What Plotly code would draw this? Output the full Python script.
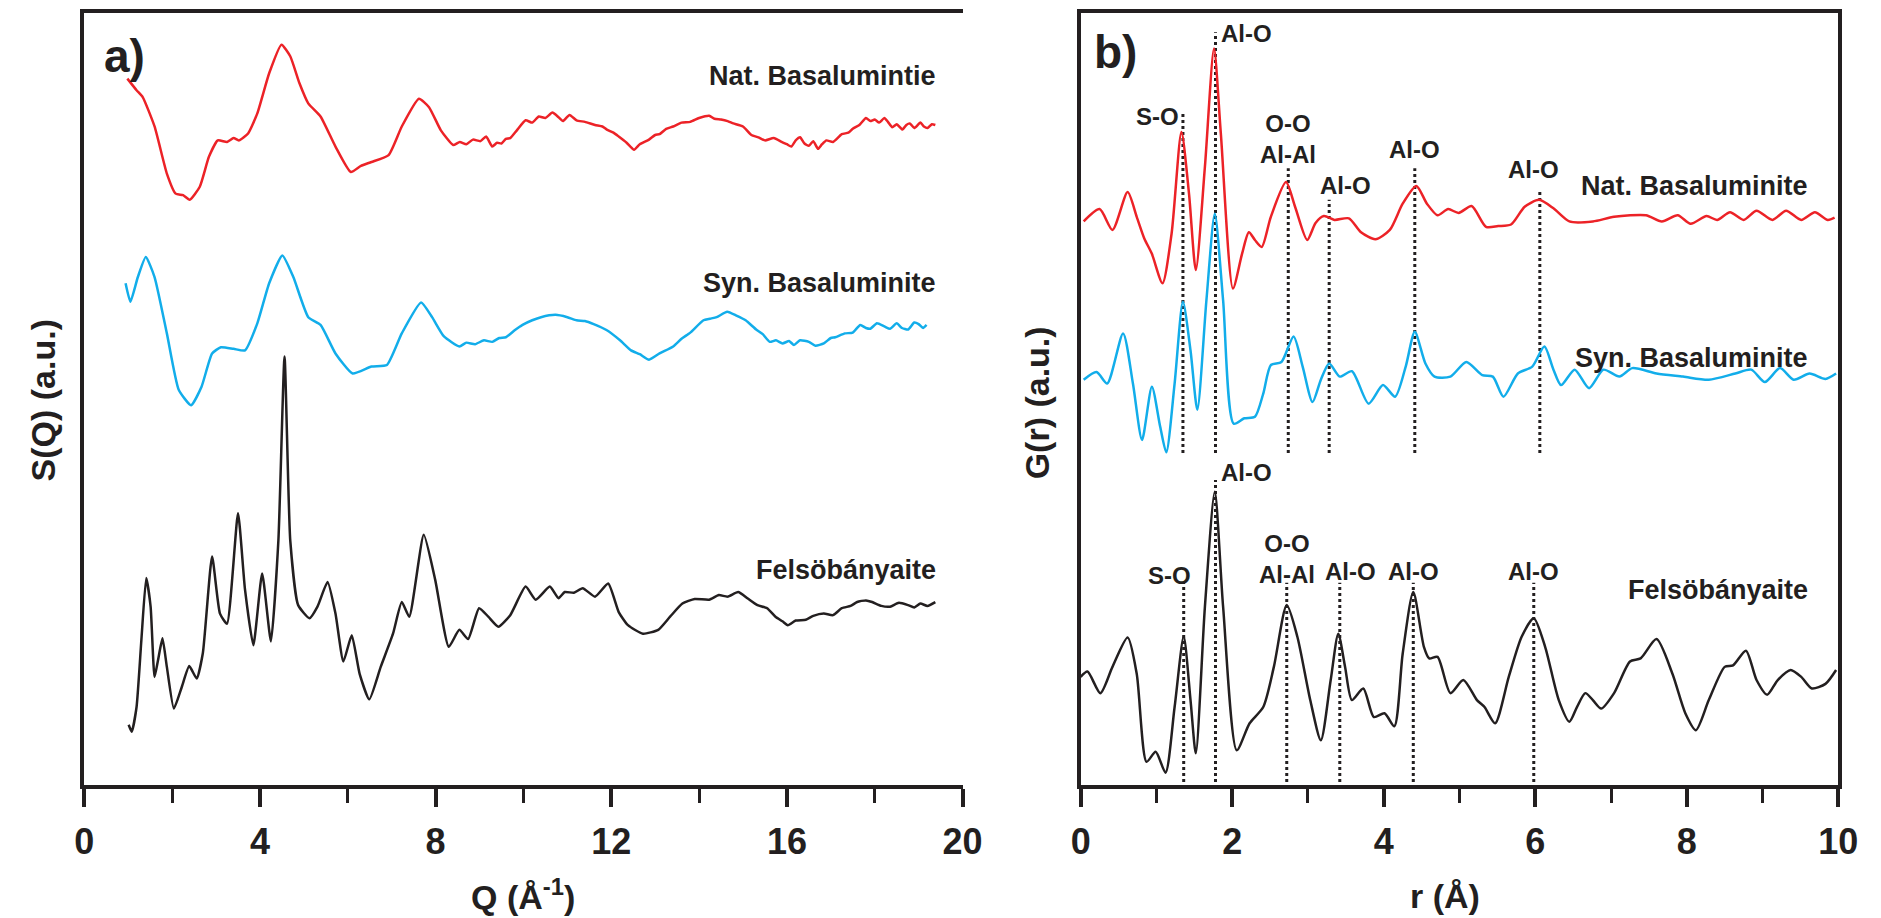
import plotly.graph_objects as go

# ---------------- Panel a: S(Q) ----------------
q_nat = [0.98,1.19,1.33,1.60,1.88,2.08,2.25,2.40,2.63,2.84,3.04,3.25,3.40,3.52,3.73,3.94,4.21,4.49,4.69,4.90,
         5.10,5.38,5.72,6.07,6.30,6.54,6.93,7.23,7.62,7.85,8.12,8.40,8.55,8.70,8.85,9.02,9.15,9.29,9.40,9.50,
         9.60,9.70,9.85,10.05,10.20,10.35,10.50,10.66,10.80,10.90,11.05,11.21,11.40,11.63,11.80,11.90,12.05,
         12.17,12.35,12.52,12.65,12.86,13.00,13.10,13.25,13.41,13.60,13.80,14.00,14.23,14.35,14.50,14.65,14.78,
         15.00,15.19,15.35,15.50,15.70,15.88,16.00,16.10,16.20,16.30,16.40,16.50,16.60,16.71,16.80,16.90,17.05,
         17.25,17.40,17.50,17.65,17.80,17.90,18.00,18.10,18.22,18.30,18.40,18.50,18.63,18.72,18.80,18.90,19.04,
         19.12,19.20,19.30,19.38]
s_nat = [91.5,90.0,89.1,85.3,79.2,76.6,76.4,75.8,77.5,81.4,83.5,83.3,83.8,83.5,84.4,87.0,92.2,95.9,94.4,90.9,
         88.3,86.6,82.7,79.4,80.2,80.7,81.6,85.3,88.9,87.8,84.8,82.9,83.3,83.0,83.6,83.4,84.0,82.7,83.2,83.1,
         83.7,83.8,84.8,86.1,85.8,86.6,86.4,87.1,86.5,86.0,86.8,86.1,85.9,85.5,85.3,84.9,84.5,
         84.0,83.2,82.3,83.0,83.6,84.2,84.3,85.0,85.3,85.8,85.9,86.4,86.7,86.3,86.2,86.0,85.7,
         85.3,84.2,83.9,83.5,83.8,83.3,83.0,82.7,83.5,83.9,83.1,82.8,83.4,82.4,83.0,83.5,83.3,
         84.3,84.5,85.0,85.5,86.4,86.0,86.2,85.8,86.4,85.9,85.2,85.6,84.9,85.5,85.7,85.1,85.8,
         85.3,85.1,85.6,85.5]

q_syn = [0.94,1.05,1.22,1.40,1.60,1.88,2.15,2.43,2.67,2.91,3.11,3.40,3.66,3.94,4.21,4.51,4.76,5.10,5.38,5.72,
         6.11,6.54,6.89,7.23,7.67,7.92,8.19,8.54,8.70,8.90,9.10,9.29,9.45,9.60,9.80,9.98,10.20,10.40,10.73,
         11.00,11.21,11.40,11.60,11.90,12.20,12.45,12.65,12.86,13.10,13.41,13.60,13.80,14.10,14.25,14.40,14.64,
         14.85,15.06,15.30,15.45,15.61,15.75,15.90,16.05,16.16,16.30,16.50,16.65,16.84,17.00,17.10,17.32,17.50,
         17.67,17.80,17.90,18.05,18.22,18.35,18.50,18.62,18.76,18.90,19.00,19.10,19.18]
s_syn = [65.0,62.6,65.8,68.4,65.8,58.5,51.2,49.2,51.6,55.9,56.7,56.5,56.3,59.8,65.0,68.6,65.8,60.6,59.6,55.9,
         53.3,54.2,54.4,58.5,62.5,60.6,58.1,56.8,57.3,57.1,57.6,57.4,57.9,58.0,58.9,59.6,60.2,60.6,60.9,
         60.6,60.2,60.1,59.7,58.9,57.6,56.3,55.8,55.1,55.9,56.8,57.8,58.6,60.2,60.4,60.6,61.3,
         60.8,60.2,59.0,58.4,57.4,57.6,57.2,57.5,57.0,57.6,57.4,56.9,57.2,57.9,58.0,58.5,58.6,
         59.6,59.2,59.1,59.8,59.4,59.1,59.8,59.2,59.0,59.9,59.7,59.2,59.6]

q_fel = [1.01,1.08,1.19,1.30,1.41,1.51,1.60,1.68,1.78,1.88,2.04,2.22,2.39,2.56,2.70,2.91,3.09,3.25,3.50,3.66,
         3.85,4.05,4.25,4.42,4.56,4.69,4.87,5.13,5.31,5.54,5.72,5.90,6.09,6.27,6.49,6.75,7.03,7.23,7.40,7.73,
         7.99,8.30,8.54,8.74,8.99,9.20,9.43,9.70,10.05,10.28,10.60,10.80,10.94,11.15,11.35,11.63,11.93,12.17,
         12.38,12.72,13.07,13.34,13.62,13.90,14.23,14.45,14.65,14.89,15.10,15.33,15.55,15.74,15.90,16.02,16.20,
         16.43,16.60,16.84,17.05,17.25,17.45,17.60,17.80,17.94,18.15,18.35,18.55,18.76,18.90,19.04,19.20,19.38]
s_fel = [7.8,6.9,10.1,18.8,26.8,23.1,14.0,16.2,19.0,15.3,9.9,12.7,15.4,13.8,17.1,29.6,22.2,20.9,35.2,25.3,
         18.1,27.4,18.6,31.7,55.5,31.7,23.3,21.6,23.1,26.3,22.2,16.0,19.4,14.4,11.1,15.3,19.6,23.7,21.8,32.4,
         26.6,17.9,20.1,18.9,22.9,21.8,20.5,22.0,25.7,24.0,25.7,24.2,25.0,24.9,25.5,24.4,26.1,22.4,
         20.7,19.6,20.1,21.8,23.5,24.1,24.0,24.6,24.4,25.0,24.2,23.3,22.9,21.8,21.2,20.7,21.3,
         21.4,21.9,22.2,22.0,22.9,23.2,23.7,23.9,23.7,23.2,23.1,23.6,23.3,23.0,23.5,23.2,23.7]

# ---------------- Panel b: G(r) ----------------
r_nat = [0.04,0.25,0.42,0.62,0.74,0.84,0.94,1.08,1.20,1.33,1.43,1.52,1.64,1.76,1.85,2.01,2.13,2.22,2.30,2.39,
         2.51,2.71,2.83,2.99,3.10,3.21,3.35,3.54,3.70,3.89,4.08,4.25,4.43,4.57,4.71,4.85,4.99,5.16,5.35,5.51,
         5.68,5.86,6.05,6.24,6.45,6.76,7.04,7.46,7.67,7.88,8.05,8.26,8.40,8.57,8.75,8.92,9.13,9.31,9.51,9.69,
         9.86,9.95]
g_nat = [73.0,74.6,71.9,76.8,73.6,70.8,68.8,65.0,71.4,84.6,76.6,66.7,80.1,95.4,84.4,64.3,68.8,71.6,70.6,69.7,
         73.6,78.1,74.9,70.6,72.8,73.7,73.2,73.4,71.6,70.7,71.9,75.3,77.6,75.3,73.8,74.6,74.1,75.0,72.3,72.4,
         72.6,74.9,75.8,74.7,73.0,73.0,73.6,73.8,73.0,73.8,72.7,73.7,73.2,74.2,73.2,74.4,73.2,74.4,73.2,74.2,
         73.2,73.5]

r_syn = [0.04,0.21,0.35,0.56,0.69,0.81,0.94,1.05,1.13,1.24,1.35,1.45,1.54,1.66,1.77,1.88,2.02,2.16,2.30,2.41,
         2.51,2.65,2.81,2.93,3.06,3.17,3.28,3.42,3.58,3.80,3.99,4.15,4.29,4.41,4.55,4.67,4.88,5.09,5.30,5.44,
         5.58,5.77,5.96,6.12,6.24,6.34,6.52,6.71,6.90,7.11,7.28,7.60,7.95,8.29,8.64,8.85,9.03,9.23,9.41,9.62,
         9.83,9.97]
g_syn = [52.5,53.5,52.0,58.5,52.0,44.7,51.6,46.4,43.1,52.0,62.6,56.3,48.6,62.8,74.0,62.8,46.8,47.5,47.7,50.7,
         54.4,54.8,58.1,54.2,49.6,52.5,54.6,52.9,53.6,49.4,51.8,50.3,54.2,58.7,54.6,52.9,52.9,54.8,53.1,52.9,
         50.3,53.3,54.2,56.8,53.8,51.8,53.8,51.4,53.8,52.9,54.0,53.3,52.9,52.5,53.3,53.8,52.2,54.0,52.5,53.3,
         52.6,53.3]

r_fel = [0.00,0.09,0.26,0.42,0.62,0.74,0.87,0.99,1.12,1.24,1.36,1.45,1.52,1.64,1.77,1.88,2.06,2.23,2.41,2.55,
         2.72,2.86,3.03,3.17,3.30,3.40,3.49,3.58,3.73,3.87,4.01,4.14,4.25,4.39,4.53,4.60,4.71,4.88,5.05,5.23,
         5.33,5.47,5.65,5.82,5.98,6.13,6.31,6.45,6.55,6.66,6.76,6.87,7.04,7.25,7.39,7.60,7.81,7.98,8.12,8.29,
         8.50,8.61,8.78,8.92,9.06,9.20,9.37,9.51,9.65,9.83,9.97]
g_fel = [14.0,14.7,11.9,15.3,19.1,14.4,3.0,4.3,1.6,10.1,19.2,11.0,4.1,23.1,38.0,23.1,4.5,8.0,10.1,15.3,
         23.3,19.2,11.0,5.8,13.6,19.6,15.3,11.0,12.5,8.8,9.3,7.6,17.0,25.0,17.9,16.4,16.6,11.9,13.6,11.0,
         10.1,8.0,14.0,19.2,21.6,17.9,11.0,8.2,10.1,11.9,11.0,9.9,11.9,16.0,16.4,18.9,14.4,9.3,7.1,11.0,
         15.3,15.5,17.4,13.6,11.7,13.6,14.9,14.0,12.5,13.1,14.9]

# dotted guide lines (r position, bottom, top) in G(r) units
guide_r_upper = [1.35, 1.78, 2.74, 3.28, 4.41, 6.06]
guide_top_upper = [87.0, 97.5, 79.9, 75.8, 79.9, 76.8]
guide_bot_upper = [43.0, 43.0, 43.0, 43.0, 43.0, 43.0]
guide_r_lower = [1.36, 1.78, 2.72, 3.42, 4.39, 5.98]
guide_top_lower = [26.2, 39.5, 26.2, 26.2, 26.2, 26.2]
guide_bot_lower = [0.4, 0.4, 0.4, 0.4, 0.4, 0.4]

# bond labels: text, r, G
bond_text_upper = ["S-O", "Al-O", "O-O<br>Al-Al", "Al-O", "Al-O", "Al-O"]
bond_r_upper = [1.33, 1.83, 2.74, 3.49, 4.41, 5.97]
bond_g_upper = [86.6, 97.3, 83.7, 77.7, 82.3, 79.7]
bond_text_lower = ["S-O", "Al-O", "O-O<br>Al-Al", "Al-O", "Al-O", "Al-O"]
bond_r_lower = [1.17, 1.83, 2.72, 3.56, 4.39, 5.98]
bond_g_lower = [27.2, 40.5, 29.3, 27.7, 27.7, 27.7]

series_names = ["Nat. Basalumintie", "Syn. Basaluminite", "Felsöbányaite"]
series_names_b = ["Nat. Basaluminite", "Syn. Basaluminite", "Felsöbányaite"]

RED = "#ec2227"
BLUE = "#12adea"
BLACK = "#231f20"
FONT = "Liberation Sans, Arial, sans-serif"

fig = go.Figure()

lw = 2.5
for xs, ys, col in [(q_nat, s_nat, RED), (q_syn, s_syn, BLUE), (q_fel, s_fel, BLACK)]:
    fig.add_trace(go.Scatter(x=xs, y=ys, mode="lines", xaxis="x", yaxis="y",
                             line=dict(color=col, width=lw, shape="spline", smoothing=0.5),
                             showlegend=False, hoverinfo="skip"))


def guide_xy(rs, bots, tops):
    gx, gy = [], []
    for r, b, t in zip(rs, bots, tops):
        gx += [r, r, None]
        gy += [b, t, None]
    return gx, gy


for rs, bots, tops in [(guide_r_upper, guide_bot_upper, guide_top_upper),
                       (guide_r_lower, guide_bot_lower, guide_top_lower)]:
    gx, gy = guide_xy(rs, bots, tops)
    fig.add_trace(go.Scatter(x=gx, y=gy, mode="lines", xaxis="x2", yaxis="y2",
                             line=dict(color=BLACK, width=3, dash="dot"),
                             showlegend=False, hoverinfo="skip"))

for xs, ys, col in [(r_nat, g_nat, RED), (r_syn, g_syn, BLUE), (r_fel, g_fel, BLACK)]:
    fig.add_trace(go.Scatter(x=xs, y=ys, mode="lines", xaxis="x2", yaxis="y2",
                             line=dict(color=col, width=lw, shape="spline", smoothing=0.7),
                             showlegend=False, hoverinfo="skip"))

W, H = 1881, 918
ax_common = dict(showline=True, linewidth=4, linecolor=BLACK, showgrid=False, zeroline=False,
                 ticks="outside", ticklen=18, tickwidth=4, tickcolor=BLACK,
                 tickfont=dict(family=FONT, size=36, color=BLACK, weight="bold"),
                 ticklabelstandoff=4, mirror=True, fixedrange=True)
ay_common = dict(showline=True, linewidth=4, linecolor=BLACK, showgrid=False, zeroline=False,
                 showticklabels=False, ticks="", range=[0, 100], fixedrange=True)

ydom = [(918 - 785) / H, (918 - 13) / H]
fig.update_layout(
    width=W, height=H, margin=dict(l=0, r=0, t=0, b=0),
    paper_bgcolor="white", plot_bgcolor="white", showlegend=False,
    xaxis=dict(ax_common, domain=[75.5 / W, 968 / W], range=[0, 20], tickvals=[0, 4, 8, 12, 16, 20],
               minor=dict(ticks="outside", ticklen=14, tickwidth=3, tickcolor=BLACK, dtick=2, tick0=0)),
    yaxis=dict(ay_common, domain=ydom, anchor="x", mirror=False),
    xaxis2=dict(ax_common, domain=[1088 / W, 1858 / W], range=[0, 10], tickvals=[0, 2, 4, 6, 8, 10],
                anchor="y2",
                minor=dict(ticks="outside", ticklen=14, tickwidth=3, tickcolor=BLACK, dtick=1, tick0=0)),
    yaxis2=dict(ay_common, domain=ydom, anchor="x2", mirror=True),
)

ann = []
lab_font = dict(family=FONT, size=27, color=BLACK, weight="bold")
# panel a series labels
for name, yv in zip(series_names, [91.8, 65.0, 27.8]):
    ann.append(dict(x=19.45, y=yv, xref="x", yref="y", text=name, showarrow=False,
                    xanchor="right", yanchor="middle", font=lab_font))
# panel b series labels
for name, yv in zip(series_names_b, [77.6, 55.3, 25.3]):
    ann.append(dict(x=9.62, y=yv, xref="x2", yref="y2", text=name, showarrow=False,
                    xanchor="right", yanchor="middle", font=lab_font))

bond_font = dict(family=FONT, size=24, color=BLACK, weight="bold")
for texts, rs, gs in [(bond_text_upper, bond_r_upper, bond_g_upper),
                      (bond_text_lower, bond_r_lower, bond_g_lower)]:
    for i, (t, r, g) in enumerate(zip(texts, rs, gs)):
        if i == 1:
            xa = "left"
        elif i == 0 and texts is bond_text_upper:
            xa = "right"
        else:
            xa = "center"
        ann.append(dict(x=r, y=g, xref="x2", yref="y2", text=t, showarrow=False,
                        xanchor=xa, yanchor="middle", font=bond_font, align="center"))

# panel letters
ann.append(dict(x=93 / W, y=1 - 56 / H, xref="paper", yref="paper", text="a)", showarrow=False,
                xanchor="left", yanchor="middle", font=dict(family=FONT, size=46, color=BLACK, weight="bold")))
ann.append(dict(x=1100 / W, y=1 - 52 / H, xref="paper", yref="paper", text="b)", showarrow=False,
                xanchor="left", yanchor="middle", font=dict(family=FONT, size=46, color=BLACK, weight="bold")))

# axis titles
tfont = dict(family=FONT, size=34, color=BLACK, weight="bold")
ann.append(dict(x=521 / W, y=1 - 894 / H, xref="paper", yref="paper", text="Q (Å<sup>-1</sup>)",
                showarrow=False, xanchor="center", yanchor="middle", font=tfont))
ann.append(dict(x=1458 / W, y=1 - 896 / H, xref="paper", yref="paper", text="r (Å)",
                showarrow=False, xanchor="center", yanchor="middle", font=tfont))
ann.append(dict(x=34 / W, y=1 - 400 / H, xref="paper", yref="paper", text="S(Q) (a.u.)", textangle=-90,
                showarrow=False, xanchor="center", yanchor="middle", font=tfont))
ann.append(dict(x=1044 / W, y=1 - 403 / H, xref="paper", yref="paper", text="G(r) (a.u.)", textangle=-90,
                showarrow=False, xanchor="center", yanchor="middle", font=tfont))

fig.update_layout(annotations=ann)
fig.write_html("out.html")
